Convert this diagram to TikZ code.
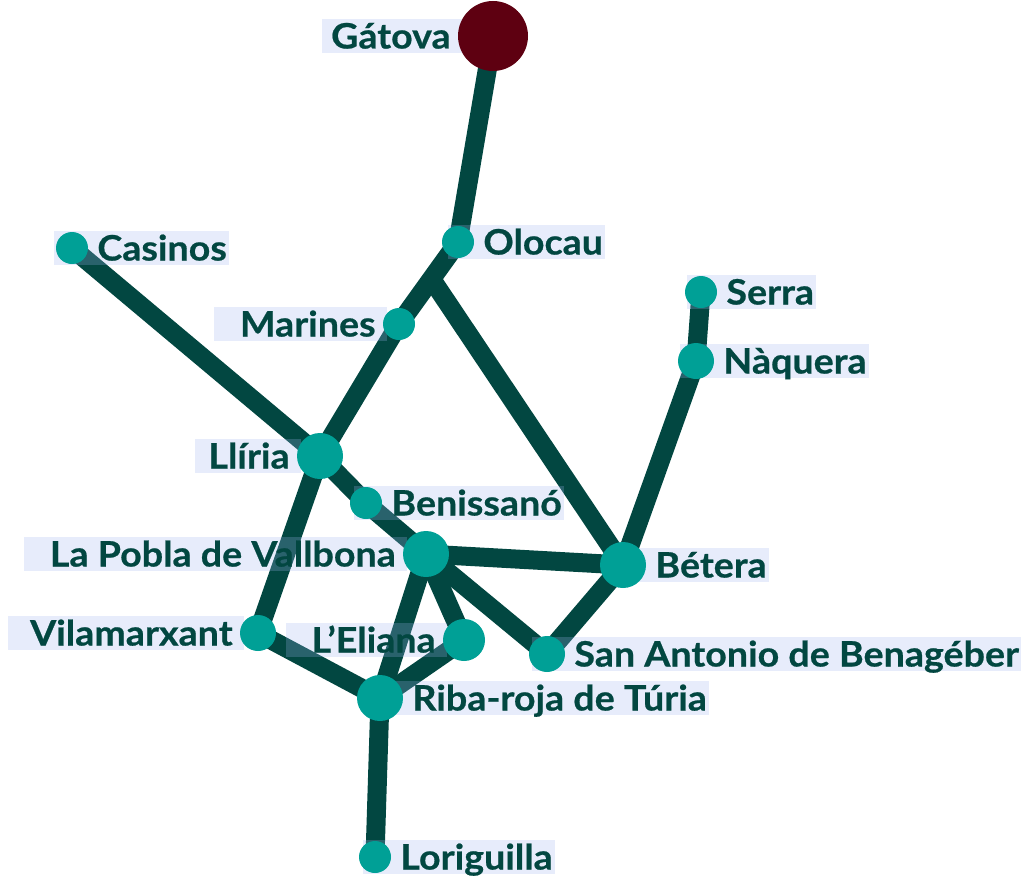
\documentclass[tikz,border=0pt]{standalone}
\usepackage{fontspec}
\setmainfont{Lato}[BoldFeatures={FakeStretch=1.075,FakeBold=0.6}]
\usetikzlibrary{positioning,calc}
\definecolor{linegreen}{RGB}{2,71,65}
\definecolor{stopteal}{RGB}{0,160,150}
\definecolor{endred}{RGB}{94,0,17}
\definecolor{lblblue}{RGB}{160,180,240}
\pgfdeclarelayer{edges}
\pgfdeclarelayer{boxes}
\pgfsetlayers{edges,boxes,main}

\begin{document}
\begin{tikzpicture}[x=1pt,y=-1pt,
  station/.style={circle,fill=stopteal,inner sep=0pt,minimum size=#1},
  station/.default=32pt,
  track/.style={linegreen,line width=19pt,line join=round},
  lbl/.style={text=linegreen,font=\bfseries\fontsize{35pt}{38pt}\selectfont,
    inner sep=0pt,text height=25pt,text depth=0pt,minimum height=34pt},
  lblbox/.style={fill=lblblue,fill opacity=0.25}]
\useasboundingbox (0,0) rectangle (1024,880);

% Stations
\node[station=70pt,fill=endred] (gatova) at (493,36) {};
\node[station] (olocau) at (458,242) {};
\node[station] (casinos) at (72,248) {};
\node[station] (marines) at (399,324) {};
\node[station] (serra) at (701,292) {};
\node[station=36pt] (naquera) at (696,361) {};
\node[station=46pt] (lliria) at (320,456) {};
\node[station] (benissano) at (366,503) {};
\node[station=46pt] (pobla) at (426,554) {};
\node[station=46pt] (betera) at (623,565) {};
\node[station=36pt] (vilamarxant) at (258,633) {};
\node[station=42pt] (eliana) at (464,640) {};
\node[station=36pt] (sanantonio) at (547,654) {};
\node[station=46pt] (ribaroja) at (380,698) {};
\node[station] (loriguilla) at (375,857) {};
\coordinate (fork) at ($(olocau)!0.45!(marines)$);

% Lines
\begin{pgfonlayer}{edges}
\draw[track] (gatova.center) -- (olocau.center) -- (marines.center) -- (lliria.center);
\draw[track] (fork) -- (betera.center);
\draw[track] (casinos.center) -- (lliria.center) -- (benissano.center) -- (pobla.center);
\draw[track] (lliria.center) -- (vilamarxant.center) -- (ribaroja.center) -- (loriguilla.center);
\draw[track] (pobla.center) -- (betera.center) -- (naquera.center) -- (serra.center);
\draw[track] (pobla.center) -- (ribaroja.center);
\draw[track] (pobla.center) -- (eliana.center) -- (ribaroja.center);
\draw[track] (pobla.center) -- (sanantonio.center) -- (betera.center);
\end{pgfonlayer}

% Labels on the right
\foreach \s/\t/\p in {olocau/Olocau/10, casinos/Casinos/18, serra/Serra/14,
    naquera/Nàquera/16, benissano/Benissanó/12, betera/Bétera/15,
    sanantonio/San Antonio de Benagéber/15, ribaroja/Riba-roja de Túria/15,
    loriguilla/Loriguilla/12}{
  \node[lbl,right=9pt of \s] (\s-l) {\t};
  \begin{pgfonlayer}{boxes}
    \fill[lblbox] ($(\s-l.north west -| \s.center)+(-\p,0)$) rectangle ($(\s-l.south east)+(2,0)$);
  \end{pgfonlayer}
}

% Labels on the left
\foreach \s/\t/\p in {gatova/Gátova/9, marines/Marines/26, lliria/Llíria/13,
    pobla/La Pobla de Vallbona/26, vilamarxant/Vilamarxant/22, eliana/L’Eliana/25}{
  \node[lbl,left=7pt of \s] (\s-l) {\t};
  \begin{pgfonlayer}{boxes}
    \fill[lblbox] ($(\s-l.north west)+(-\p,0)$) rectangle ($(\s-l.south -| \s.west)+(4,0)$);
  \end{pgfonlayer}
}
\end{tikzpicture}
\end{document}
